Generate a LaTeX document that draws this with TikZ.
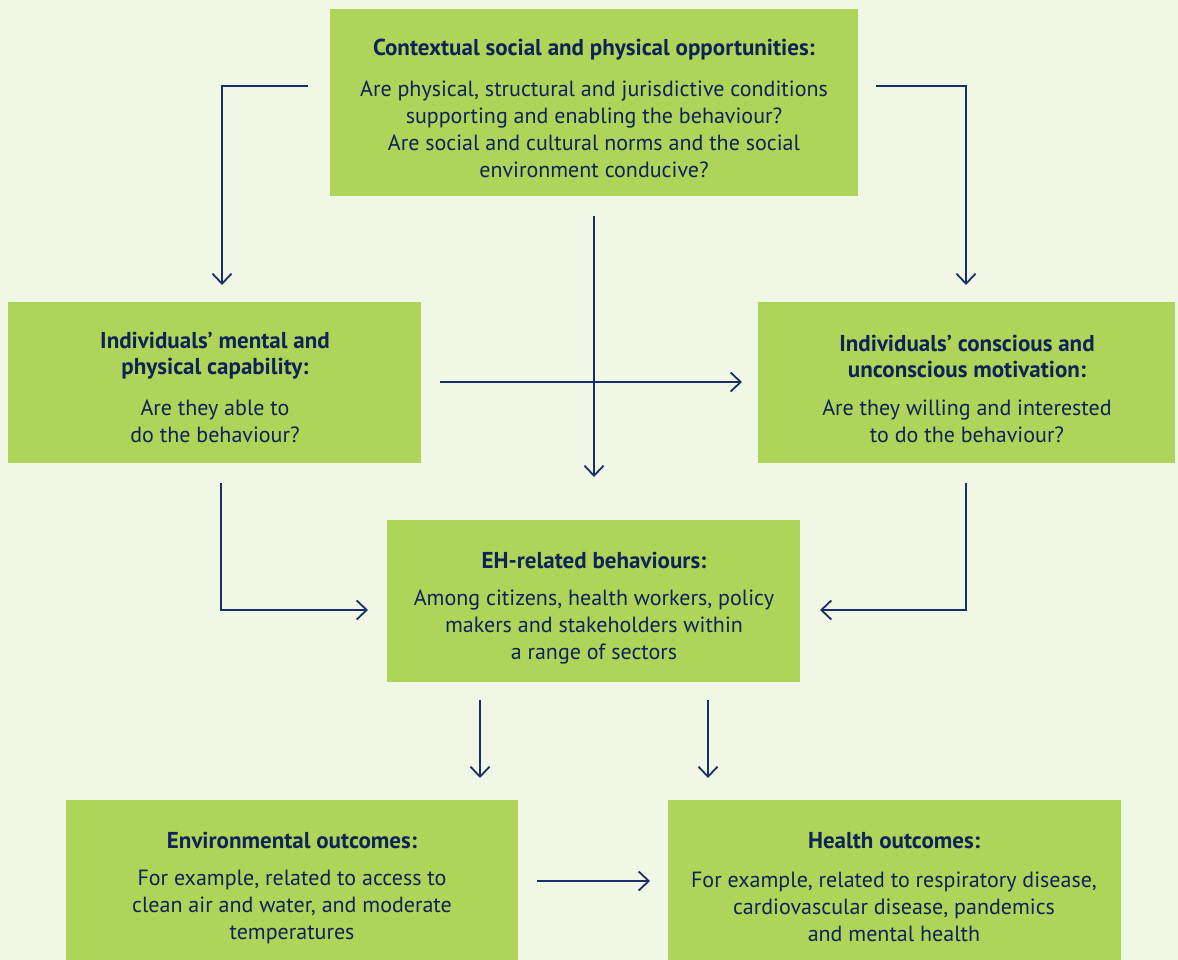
\documentclass[tikz,border=0pt]{standalone}
\usepackage{fontspec}
\setmainfont{PT Sans}
\usetikzlibrary{arrows.meta,calc}
\definecolor{bg}{HTML}{F0F7E4}
\definecolor{boxfill}{HTML}{AED45A}
\definecolor{ink}{HTML}{0E2356}
\definecolor{wire}{HTML}{1A2F6A}
\begin{document}
\begin{tikzpicture}[x=1pt,y=-1pt,
  box/.style={fill=boxfill, draw=none, inner sep=0pt, anchor=north west},
  headtext/.style={text=ink, align=center, inner sep=0pt, font=\fontsize{23}{26}\selectfont\bfseries},
  bodytext/.style={text=ink, align=center, inner sep=0pt, font=\fontsize{22}{26.8}\selectfont},
  flow/.style={draw=wire, line width=1.8pt, line join=miter,
    -{Straight Barb[length=10pt,width=19pt,line width=1.8pt]}}
]
% canvas
\fill[bg] (0,0) rectangle (1178,960);
\useasboundingbox (0,0) rectangle (1178,960);
\clip (0,0) rectangle (1178,960);

% boxes
\node[box, minimum width=528pt, minimum height=187pt] (opp) at (330,9) {};
\node[box, minimum width=413pt, minimum height=161pt] (cap) at (8,302) {};
\node[box, minimum width=417pt, minimum height=161pt] (mot) at (758,302) {};
\node[box, minimum width=413pt, minimum height=162pt] (beh) at (387,520) {};
\node[box, minimum width=452pt, minimum height=170pt] (env) at (66,800) {};
\node[box, minimum width=453pt, minimum height=170pt] (hea) at (668,800) {};

% texts
\node[headtext] (oppT) at (594,49.5) {Contextual social and physical opportunities:};
\node[bodytext] (oppB) at (594,129.5) {Are physical, structural and jurisdictive conditions\\
  supporting and enabling the behaviour?\\Are social and cultural norms and the social\\
  environment conducive?};

\node[headtext] (capT) at (215,356) {Individuals’ mental and\\physical capability:};
\node[bodytext] (capB) at (215,421.5) {Are they able to\\do the behaviour?};

\node[headtext] (motT) at (967,356) {Individuals’ conscious and\\unconscious motivation:};
\node[bodytext] (motB) at (967,421.5) {Are they willing and interested\\to do the behaviour?};

\node[headtext] (behT) at (594,560.5) {EH-related behaviours:};
\node[bodytext] (behB) at (594,627) {Among citizens, health workers, policy\\
  makers and stakeholders within\\a range of sectors};

\node[headtext] (envT) at (292,840.5) {Environmental outcomes:};
\node[bodytext] (envB) at (292,907) {For example, related to access to\\
  clean air and water, and moderate\\temperatures};

\node[headtext] (heaT) at (894,840.5) {Health outcomes:};
\node[bodytext] (heaB) at (894,907) {For example, related to respiratory disease,\\
  cardiovascular disease, pandemics\\and mental health};

% connector end points
\coordinate (oppL) at (308,86);
\coordinate (oppLc) at (222,86);
\coordinate (capIn) at (222,285);
\coordinate (oppR) at (876,86);
\coordinate (oppRc) at (966,86);
\coordinate (motIn) at (966,285);
\coordinate (oppD) at (594,216);
\coordinate (behIn) at (594,477);
\coordinate (capR) at (440,382);
\coordinate (motL) at (742,382);
\coordinate (capD) at (221,483);
\coordinate (capDc) at (221,610);
\coordinate (behL) at (368,610);
\coordinate (motD) at (966,483);
\coordinate (motDc) at (966,610);
\coordinate (behR) at (820,610);
\coordinate (behD1) at (480,700);
\coordinate (envIn) at (480,778);
\coordinate (behD2) at (708,700);
\coordinate (heaIn) at (708,778);
\coordinate (envR) at (537,881);
\coordinate (heaL) at (650,881);

% connectors
\draw[flow] (oppL) -- (oppLc) -- (capIn);
\draw[flow] (oppR) -- (oppRc) -- (motIn);
\draw[flow] (oppD) -- (behIn);
\draw[flow] (capR) -- (motL);
\draw[flow] (capD) -- (capDc) -- (behL);
\draw[flow] (motD) -- (motDc) -- (behR);
\draw[flow] (behD1) -- (envIn);
\draw[flow] (behD2) -- (heaIn);
\draw[flow] (envR) -- (heaL);
\end{tikzpicture}
\end{document}
